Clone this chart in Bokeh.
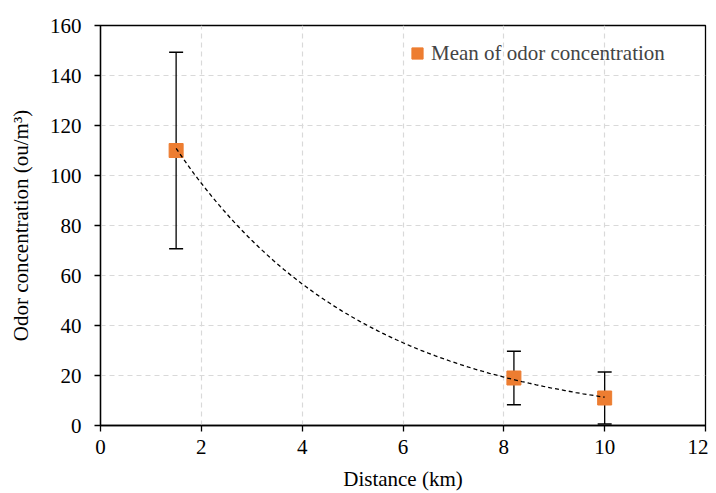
import numpy as np
from bokeh.plotting import figure
from bokeh.models import ColumnDataSource, Whisker, TeeHead, Legend, LegendItem, FixedTicker
from bokeh.embed import file_html
from bokeh.resources import INLINE

distance = [1.5, 8.2, 10.0]
mean_conc = [110.0, 19.0, 11.0]
std_conc = [39.3, 10.7, 10.4]
x_ticks = [0, 2, 4, 6, 8, 10, 12]
y_ticks = [0, 20, 40, 60, 80, 100, 120, 140, 160]

FONT = "'Liberation Serif', 'Times New Roman', serif"
FS = "21px"

upper = [m + s for m, s in zip(mean_conc, std_conc)]
lower = [m - s for m, s in zip(mean_conc, std_conc)]
src = ColumnDataSource(dict(x=distance, y=mean_conc, upper=upper, lower=lower))

# exponential trend line (least squares on log values, as a spreadsheet trendline)
b, lna = np.polyfit(np.array(distance), np.log(np.array(mean_conc)), 1)
tx = np.linspace(min(distance), max(distance), 120)
ty = np.exp(lna) * np.exp(b * tx)

p = figure(width=708, height=493, output_backend="svg", toolbar_location=None,
           x_range=(0, 12), y_range=(0, 160),
           min_border_left=100, min_border_right=3, min_border_top=25, min_border_bottom=68)

p.background_fill_color = "white"
p.border_fill_color = "white"
p.outline_line_color = "black"
p.outline_line_width = 1.3

for ax in (p.xaxis[0], p.yaxis[0]):
    ax.axis_line_color = "black"
    ax.axis_line_width = 1.3
    ax.major_tick_line_color = "black"
    ax.major_tick_line_width = 1.3
    ax.major_tick_out = 6
    ax.major_tick_in = 0
    ax.minor_tick_line_color = None
    ax.major_label_text_font = FONT
    ax.major_label_text_font_size = FS
    ax.major_label_text_color = "black"
    ax.axis_label_text_font = FONT
    ax.axis_label_text_font_size = FS
    ax.axis_label_text_font_style = "normal"
    ax.axis_label_text_color = "black"

p.xaxis.ticker = FixedTicker(ticks=x_ticks)
p.yaxis.ticker = FixedTicker(ticks=y_ticks)
p.xaxis.axis_label = "Distance (km)"
p.yaxis.axis_label = "Odor concentration (ou/m\u00b3)"
p.xaxis.major_label_standoff = 8
p.yaxis.major_label_standoff = 13
p.xaxis.axis_label_standoff = 10
p.yaxis.axis_label_standoff = 14

p.xgrid.grid_line_color = "#d9d9d9"
p.ygrid.grid_line_color = "#d9d9d9"
p.xgrid.grid_line_dash = "5 4"
p.ygrid.grid_line_dash = "5 4"
p.xgrid.grid_line_width = 1.2
p.ygrid.grid_line_width = 1.2

w = Whisker(source=src, base="x", upper="upper", lower="lower", dimension="height",
            line_color="black", line_width=1.3,
            upper_head=TeeHead(size=14, line_color="black", line_width=1.3),
            lower_head=TeeHead(size=14, line_color="black", line_width=1.3))
p.add_layout(w)

r = p.scatter("x", "y", source=src, marker="square", size=14,
              fill_color="#ED7D31", line_color="#ED7D31")

p.line(tx, ty, line_color="black", line_width=1.3, line_dash="4 3")

legend = Legend(items=[LegendItem(label="Mean of odor concentration", renderers=[r])],
                location=(303, 358), border_line_color=None, background_fill_alpha=0,
                glyph_width=28, glyph_height=28, label_standoff=0,
                label_text_font=FONT, label_text_font_size=FS, padding=0, spacing=0)
p.add_layout(legend)

open("out.html", "w").write(file_html(p, INLINE))
